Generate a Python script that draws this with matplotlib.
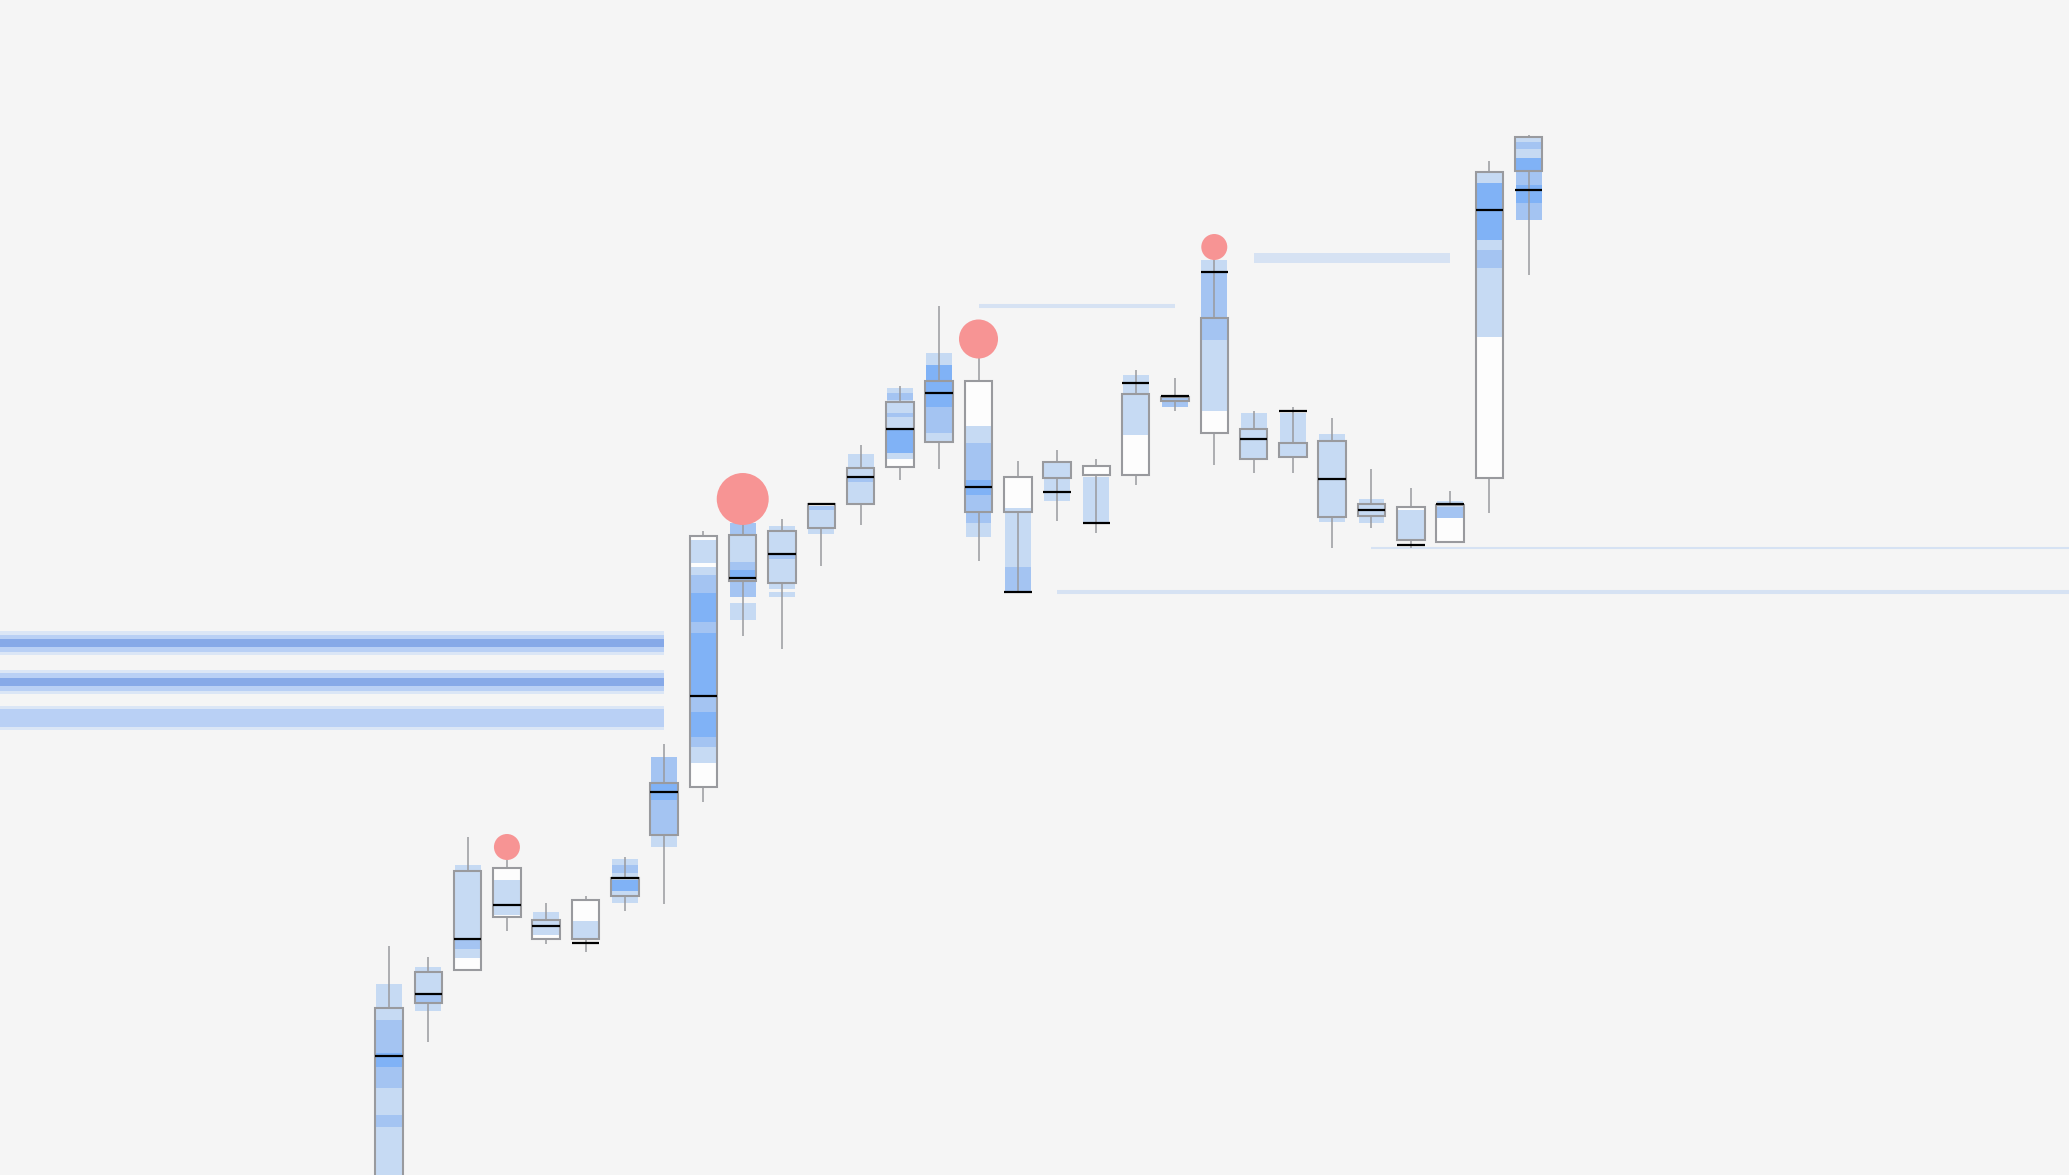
import matplotlib
matplotlib.use('Agg')
import matplotlib.pyplot as plt
from matplotlib.patches import Rectangle

# --- candle data (arbitrary price units) ---
opens = [98.5, 117.2, 120.5, 130.7, 125.5, 123.6, 127.9, 134.0, 138.8, 164.0,
         159.2, 164.7, 167.1, 170.8, 179.4, 179.4, 169.8, 169.7, 170.9, 170.0,
         177.8, 185.7, 174.6, 173.2, 173.4, 167.1, 166.8, 163.3, 169.7, 203.8]
closes = [116.7, 120.3, 130.4, 125.8, 123.6, 127.5, 129.7, 139.2, 163.9, 159.4,
          164.4, 167.1, 170.7, 177.3, 173.3, 166.3, 166.3, 171.3, 170.0, 178.1,
          177.4, 174.2, 171.6, 171.8, 165.8, 165.9, 163.5, 167.0, 200.3, 200.4]
highs = [122.9, 121.8, 133.8, 131.5, 127.2, 127.9, 131.8, 143.1, 164.4, 165.3,
         165.6, 167.1, 173.0, 178.9, 186.9, 181.8, 171.4, 172.5, 171.6, 180.5,
         179.7, 191.7, 176.4, 176.8, 175.7, 170.6, 168.7, 168.4, 201.4, 204.0]
lows = [96.5, 113.3, 120.5, 124.4, 123.1, 122.3, 126.4, 127.1, 137.3, 153.9,
        152.6, 160.9, 165.0, 169.5, 170.6, 161.4, 158.3, 165.4, 164.2, 169.0,
        176.4, 171.0, 170.2, 170.2, 162.7, 164.7, 162.7, 163.2, 166.2, 190.0]

# point of control per candle
pocs = [111.9, 118.1, 123.6, 127.0, 124.9, 123.2, 129.7, 138.3, 147.9, 159.7,
        162.1, 167.1, 169.8, 174.6, 178.2, 168.8, 158.3, 168.3, 165.2, 179.2,
        177.9, 190.3, 173.6, 176.4, 169.6, 166.5, 163.0, 167.1, 196.5, 198.5]

# volume profile bands per candle: (low, high, level) level 0=light 1=medium 2=strong
profiles = [
    [(115.5, 119.1, 0), (112.2, 115.5, 1), (110.8, 112.2, 2), (108.7, 110.8, 1),
     (106.0, 108.7, 0), (104.8, 106.0, 1), (99.5, 104.8, 0)],
    [(116.4, 117.2, 0), (117.2, 118.1, 1), (118.1, 120.8, 0)],
    [(123.6, 131.0, 0), (122.6, 123.6, 1), (121.7, 122.6, 0)],
    [(126.0, 129.5, 0)],
    [(124.0, 126.3, 0)],
    [(123.6, 125.4, 0)],
    [(131.0, 131.6, 0), (130.2, 131.0, 1), (129.5, 130.2, 0), (128.4, 129.5, 2),
     (127.2, 128.4, 0)],
    [(139.2, 141.8, 1), (137.5, 139.2, 2), (134.0, 137.5, 1), (132.8, 134.0, 0)],
    [(161.2, 163.5, 0), (160.0, 160.8, 0), (158.2, 160.0, 1), (155.3, 158.2, 2),
     (154.2, 155.3, 1), (147.8, 154.2, 2), (146.3, 147.8, 1), (143.8, 146.3, 2),
     (142.8, 143.8, 1), (141.2, 142.8, 0)],
    [(164.0, 165.2, 1), (161.3, 164.0, 0), (160.5, 161.3, 1), (159.8, 160.5, 2),
     (157.8, 159.8, 1), (155.5, 157.2, 0)],
    [(162.1, 164.9, 0), (161.6, 162.1, 1), (158.6, 161.6, 0), (157.8, 158.3, 0)],
    [(166.5, 166.9, 1), (164.1, 166.5, 0)],
    [(169.8, 172.1, 0), (169.3, 169.8, 1), (167.2, 169.3, 0)],
    [(178.2, 178.7, 0), (177.5, 178.2, 1), (176.2, 177.5, 0), (175.8, 176.2, 1),
     (174.5, 175.8, 0), (172.2, 174.5, 2), (171.6, 172.2, 0)],
    [(181.0, 182.2, 0), (176.8, 181.0, 2), (174.2, 176.8, 1), (173.2, 174.2, 0)],
    [(173.2, 174.9, 0), (169.5, 173.2, 1), (168.0, 169.5, 2), (165.2, 168.0, 1),
     (163.8, 165.2, 0)],
    [(160.8, 166.7, 0), (158.4, 160.8, 1)],
    [(167.4, 171.3, 0)],
    [(165.3, 169.8, 0)],
    [(174.0, 180.0, 0)],
    [(176.8, 177.7, 1)],
    [(190.3, 191.5, 0), (183.5, 190.3, 1), (176.4, 183.5, 0)],
    [(171.6, 176.2, 0)],
    [(171.8, 176.2, 0)],
    [(165.3, 174.1, 0)],
    [(165.2, 167.6, 0)],
    [(163.5, 166.5, 0)],
    [(166.8, 167.4, 0), (165.7, 166.8, 1)],
    [(199.2, 200.2, 0), (193.5, 199.2, 2), (192.5, 193.5, 0), (190.7, 192.5, 1),
     (183.8, 190.7, 0)],
    [(203.3, 203.7, 0), (202.6, 203.3, 1), (201.7, 202.6, 0), (200.5, 201.7, 2),
     (199.0, 200.5, 1), (197.2, 199.0, 2), (195.5, 197.2, 1)],
]

# signal circles
signal_idx = [3, 9, 15, 21]
signal_price = [132.8, 167.6, 183.6, 192.8]
signal_size = [350, 1400, 790, 350]

# horizontal levels
level_price = [186.9, 191.7, 158.3, 162.7]
level_start = [15, 22, 17, 25]
level_end = [20, 27, 45, 45]
level_width = [2.9, 7.2, 2.9, 1.5]

# left zone bands (low, high, level)
zone_end = 7
zone_bands = [
    (154.0, 154.4, 0), (153.6, 154.0, 1), (152.8, 153.6, 2), (152.3, 152.8, 1), (152.0, 152.3, 0),
    (150.2, 150.5, 0), (149.7, 150.2, 1), (148.9, 149.7, 2), (148.4, 148.9, 1), (148.1, 148.4, 0),
    (146.6, 146.9, 0), (144.8, 146.6, 1), (144.5, 144.8, 0),
]

bg = '#f5f5f5'
prof_colors = ['#c6daf3', '#a4c4f2', '#80b2f6']
zone_colors = ['#dbe6f6', '#b9d0f5', '#86a9e8']
edge = '#999a9e'

fig = plt.figure(figsize=(20.69, 11.75), dpi=100)
fig.patch.set_facecolor(bg)
ax = fig.add_axes([0, 0, 1, 1])
ax.set_facecolor(bg)
ax.set_xlim(-9.9, 42.75)
ax.set_ylim(100.0, 217.5)
ax.axis('off')

body_w = 0.70
prof_w = 0.66

# left zones
for lo, hi, lv in zone_bands:
    ax.add_patch(Rectangle((-20, lo), zone_end + 20, hi - lo, facecolor=zone_colors[lv],
                           edgecolor='none', zorder=1))

# levels
for p, s, e, w in zip(level_price, level_start, level_end, level_width):
    ax.plot([s, e], [p, p], color='#d6e2f3', lw=w, solid_capstyle='butt', zorder=1)

for i in range(len(opens)):
    lo_b = min(opens[i], closes[i])
    hi_b = max(opens[i], closes[i])
    # body face
    ax.add_patch(Rectangle((i - body_w / 2, lo_b), body_w, hi_b - lo_b,
                           facecolor='#fdfdfd', edgecolor='none', zorder=2))
    # profile
    for lo, hi, lv in profiles[i]:
        ax.add_patch(Rectangle((i - prof_w / 2, lo), prof_w, hi - lo,
                               facecolor=prof_colors[lv], edgecolor='none', zorder=3))
    # body outline
    ax.add_patch(Rectangle((i - body_w / 2, lo_b), body_w, hi_b - lo_b,
                           facecolor='none', edgecolor=edge, lw=1.5, zorder=4))
    # wicks
    ax.plot([i, i], [hi_b, highs[i]], color=edge, lw=1.1, zorder=4, solid_capstyle='butt')
    ax.plot([i, i], [lows[i], lo_b], color=edge, lw=1.1, zorder=4, solid_capstyle='butt')
    # POC
    ax.plot([i - body_w / 2, i + body_w / 2], [pocs[i], pocs[i]], color='black',
            lw=1.6, zorder=5, solid_capstyle='butt')

ax.scatter(signal_idx, signal_price, s=signal_size, color='#f79494', edgecolor='none', zorder=6)

fig.savefig('out.png', dpi=100, facecolor=bg)
